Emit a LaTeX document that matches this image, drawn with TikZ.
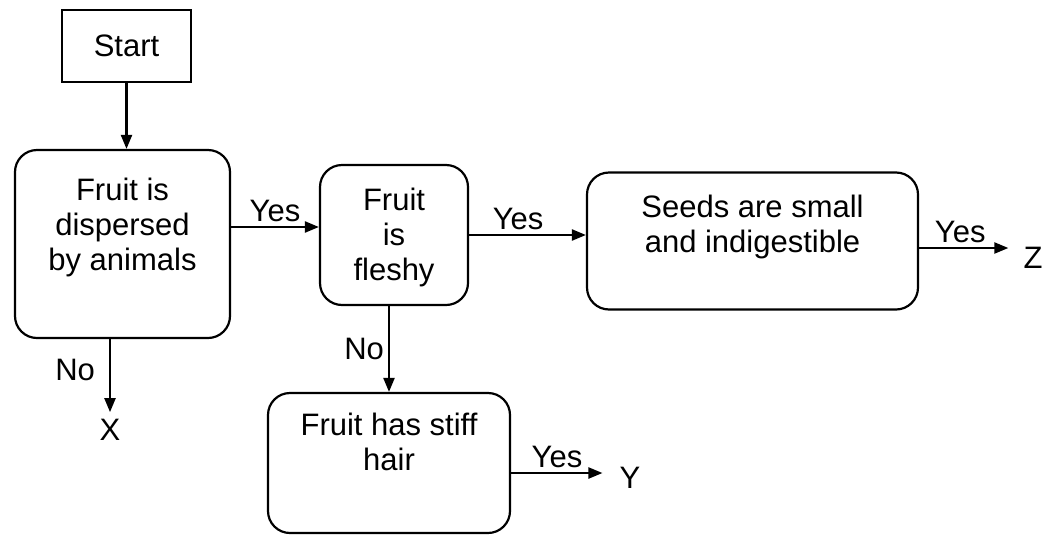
\documentclass[tikz,border=0pt]{standalone}
\usepackage{fontspec}
\setmainfont{Liberation Sans}
\usepackage{tikz}
\usetikzlibrary{arrows.meta}
\newcommand{\liftlines}[2]{\raisebox{#1}[\height][\depth]{\begin{tabular}{@{}c@{}}#2\end{tabular}}}
\tikzset{every node/.style={font=\fontsize{31}{35}\selectfont},
    stepbox/.style={draw,line width=2.2pt,inner sep=0pt},
    choice/.style={stepbox,rounded corners=22pt},
    tag/.style={inner sep=4pt},
    flow/.style={draw,line width=2.2pt,-{Triangle[length=14pt,width=11pt]}}}

\begin{document}
\begin{tikzpicture}[x=1pt,y=1pt]
\useasboundingbox (0,0) rectangle (1051,-536);
\node[stepbox,minimum width=129pt,minimum height=72pt] (start) at (126.5,-46) {Start};
\node[choice,minimum width=215pt,minimum height=188pt] (disp) at (122.5,-244)
    {\liftlines{16pt}{Fruit is\\dispersed\\by animals}};
\node[choice,minimum width=148pt,minimum height=140pt] (fleshy) at (394,-235)
    {\liftlines{-3pt}{Fruit\\is\\fleshy}};
\node[choice,minimum width=331pt,minimum height=137pt] (seeds) at (752.5,-241)
    {\liftlines{13pt}{Seeds are small\\and indigestible}};
\node[choice,minimum width=242pt,minimum height=140pt] (hair) at (389,-463)
    {\liftlines{17pt}{Fruit has stiff\\hair}};
\node[tag] (x) at (110,-430) {X};
\node[tag] (z) at (1033,-258) {Z};
\node[tag] (y) at (630,-478) {Y};

\draw[flow] (start.south) -- (start.south |- disp.north);
\draw[flow] ([yshift=17pt]disp.east) -- ([yshift=17pt]disp.east -| fleshy.west)
    node[tag,midway,above] (yes1) {Yes};
\draw[flow] (fleshy.east) -- (fleshy.east -| seeds.west)
    node[tag,pos=0.42,above] (yes2) {Yes};
\draw[flow,shorten >=11pt] ([yshift=-7pt]seeds.east) -- ([yshift=-7pt]seeds.east -| z.west)
    node[tag,pos=0.41,above] (yes3) {Yes};
\draw[flow,shorten >=13pt] ([yshift=-10pt]hair.east) -- ([yshift=-10pt]hair.east -| y.west)
    node[tag,pos=0.44,above] (yes4) {Yes};
\draw[flow,shorten >=3pt] (disp.south -| x.north) -- (x.north)
    node[tag,pos=0.4,left=10pt] (no1) {No};
\draw[flow] (fleshy.south -| hair.north) -- (hair.north)
    node[tag,midway,left] (no2) {No};
\end{tikzpicture}
\end{document}
